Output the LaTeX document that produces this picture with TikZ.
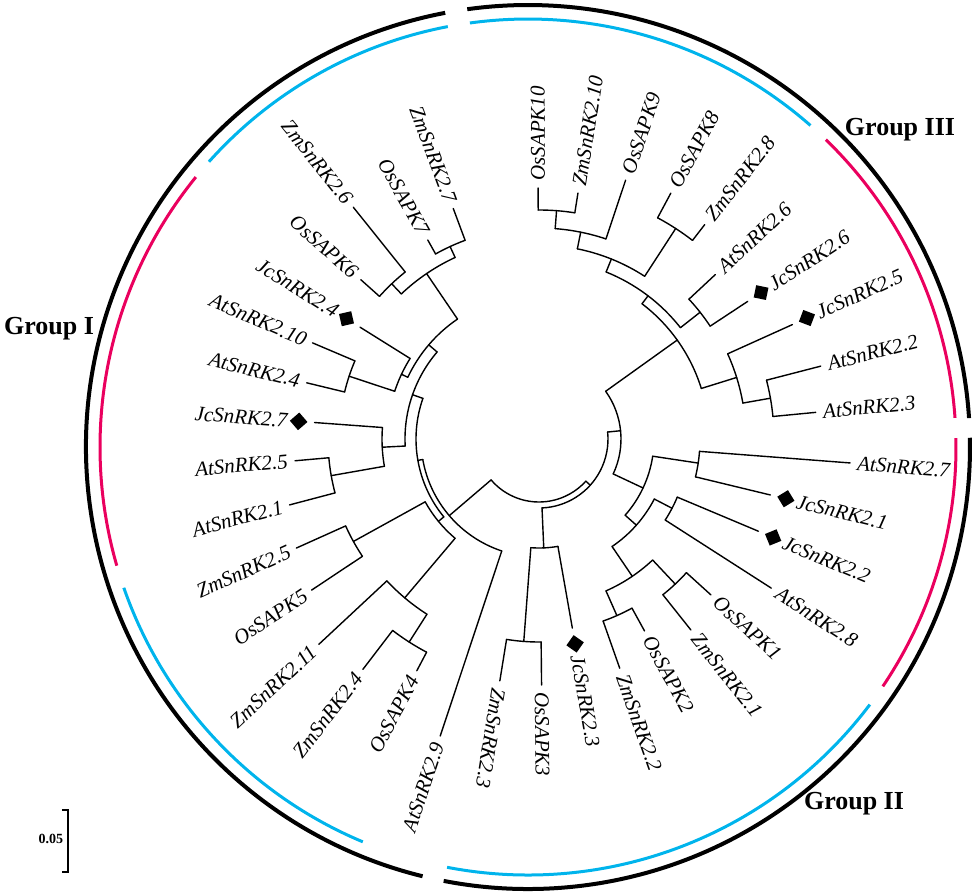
\documentclass[tikz,border=0pt]{standalone}
\usepackage{fontspec}
\setmainfont{Liberation Serif}
\usetikzlibrary{shapes.geometric}
\definecolor{monocyan}{RGB}{0,180,236}
\definecolor{dicotpink}{RGB}{234,0,94}
\tikzset{
  branch/.style={line width=0.7pt, line cap=round},
  leaflab/.style={font=\fontsize{10.5}{12}\selectfont\itshape, inner sep=3.5pt},
  jcmark/.style={diamond, fill=black, inner sep=0pt, minimum size=9pt},
  grouplab/.style={font=\fontsize{13}{15}\selectfont\bfseries},
  ring/.style={line width=2pt},
  subring/.style={line width=1.5pt},
}

\begin{document}
\begin{tikzpicture}[x=0.5pt, y=0.5pt]
\useasboundingbox (-539,-456) rectangle (438,439);
\coordinate (O) at (-11,-8);

% group rings
\foreach \sa/\ea in {100.8/256.2, 259/361.2, 3.75/97.9}
  \draw[ring] ([shift={(O)}]\sa:442) arc[start angle=\sa, end angle=\ea, radius=442];
\foreach \sa/\ea/\col in {100.8/138.2/monocyan, 48.7/97.8/monocyan, 199.2/247.3/monocyan,
    259.1/323/monocyan, 3.9/45.9/dicotpink, -34/1.2/dicotpink, 140.9/196.1/dicotpink}
  \draw[subring, \col] ([shift={(O)}]\sa:428) arc[start angle=\sa, end angle=\ea, radius=428];

% root
\coordinate (root) at (269.25:63);
\draw[branch] (220.5:63) arc[start angle=220.5, end angle=318, radius=63];

% inner nodes: name/angle/from/to/arc start/arc end
\foreach \nm/\ang/\ra/\rb/\sa/\ea in {
  R/-42/63/69/-87.5/5.8, B/-87.5/69/109/-94.3/-80, C/-94.3/109/203/-99.2/-89.4,
  RR/5.8/69/82/-25.2/35.6, G2R/-25.2/82/115/-41.5/-8.6, D/-8.6/115/161/-13.6/-4.4,
  E/-41.5/115/130/-55.8/-27.5, F/-27.5/130/150/-32.7/-22.8, Q/-55.8/130/166/-66.2/-46.8,
  H/-46.8/166/199/-51.5/-42.2, I/-66.2/166/193/-70.6/-61.2,
  G3/35.6/82/170/17.3/52.7, A5/52.7/170/180/38.2/68.1, A3/68.1/180/194/57/78.6,
  A2/78.6/194/211/71.5/85.6, A1/85.6/211/229/81/90.2, A4/57/194/251/52.3/61.8,
  A6/38.2/180/205/33.4/43, A8/17.3/170/207/10/24.3, A7/10/207/235/5.5/14.5,
  L/220.5/63/118/190/251.6, X/190/118/123/160.7/219.3, N0/219.3/123/130/208.9/229.8,
  O5/208.9/130/212/204.2/213.6, N1/229.8/130/208/223/237.4, N2/237.4/208/241/232.6/242.2,
  UI/160.7/123/134/139.5/183, P/183/134/157/175.8/190, K/190/157/211/185.1/194.8,
  Y/139.5/134/145/124.2/154.8, V/154.8/145/152/148/161.7, U/161.7/152/200/157/166.4,
  W/124.2/145/200/114.8/133.5, W1/133.5/200/214/128.7/138.2, W2/114.8/200/212/110.4/119.2}
{
  \coordinate (\nm-base) at (\ang:\ra);
  \coordinate (\nm) at (\ang:\rb);
  \draw[branch] (\nm-base) -- (\nm);
  \draw[branch] (\sa:\rb) arc[start angle=\sa, end angle=\ea, radius=\rb];
}

% leaves: angle/from/tip/name/label/Jatropha mark
\foreach \ang/\ra/\rb/\nm/\lab/\jc in {
  90.2/229/251/os10/OsSAPK10/0, 81/229/249/zm210/ZmSnRK2.10/0, 71.5/211/273/os9/OsSAPK9/0,
  61.8/251/279/os8/OsSAPK8/0, 52.3/251/271/zm28/ZmSnRK2.8/0, 43/205/241/at26/AtSnRK2.6/0,
  33.4/205/250/jc26/JcSnRK2.6/1, 24.3/207/278/jc25/JcSnRK2.5/1, 14.5/235/291/at22/AtSnRK2.2/0,
  5.5/235/278/at23/AtSnRK2.3/0, -4.4/161/312/at27/AtSnRK2.7/0, -13.6/161/238/jc21/JcSnRK2.1/1,
  -22.8/150/238/jc22/JcSnRK2.2/1, -32.7/150/276/at28/AtSnRK2.8/0, -42.2/199/232/os1/OsSAPK1/0,
  -51.5/199/244/zm21/ZmSnRK2.1/0, -61.2/193/219/os2/OsSAPK2/0, -70.6/193/243/zm22/ZmSnRK2.2/0,
  -80/109/192/jc23/JcSnRK2.3/1, -89.4/203/246/os3/OsSAPK3/0, -99.2/203/245/zm23/ZmSnRK2.3/0,
  251.6/118/313/at29/AtSnRK2.9/0, 242.2/241/262/os4/OsSAPK4/0, 232.6/241/290/zm24/ZmSnRK2.4/0,
  223/208/301/zm211/ZmSnRK2.11/0, 213.6/212/273/os5/OsSAPK5/0, 204.2/212/266/zm25/ZmSnRK2.5/0,
  194.8/211/258/at21/AtSnRK2.1/0, 185.1/211/245/at25/AtSnRK2.5/0, 175.8/157/225/jc27/JcSnRK2.7/1,
  166.4/200/239/at24/AtSnRK2.4/0, 157/200/246/at210/AtSnRK2.10/0, 148/152/211/jc24/JcSnRK2.4/1,
  138.2/214/239/os6/OsSAPK6/0, 128.7/214/297/zm26/ZmSnRK2.6/0, 119.2/212/228/os7/OsSAPK7/0,
  110.4/212/246/zm27/ZmSnRK2.7/0}
{
  \coordinate (\nm-base) at (\ang:\ra);
  \coordinate (\nm) at (\ang:\rb);
  \draw[branch] (\nm-base) -- (\nm);
  \pgfmathsetmacro\rd{\rb+16}
  \pgfmathsetmacro\rl{\rb+20*\jc}
  \ifnum\jc=1 \node[jcmark, rotate=\ang] (\nm-mark) at (\ang:\rd) {}; \fi
  \pgfmathtruncatemacro\flip{and(\ang>95,\ang<255)}
  \ifnum\flip=1
    \node[leaflab, anchor=east, rotate=\ang+180] (\nm-lab) at (\ang:\rl) {\lab};
  \else
    \node[leaflab, anchor=west, rotate=\ang] (\nm-lab) at (\ang:\rl) {\lab};
  \fi
}

\node[grouplab] (g1) at (-490,110) {Group I};
\node[grouplab] (g2) at (315,-365) {Group II};
\node[grouplab] (g3) at (361,309) {Group III};

% scale bar
\draw[line width=0.7pt] (-477,-371) -- (-471,-371) -- (-471,-433) -- (-477,-433);
\node[font=\fontsize{7}{8}\selectfont\bfseries] (scale) at (-488,-400) {0.05};
\end{tikzpicture}
\end{document}
